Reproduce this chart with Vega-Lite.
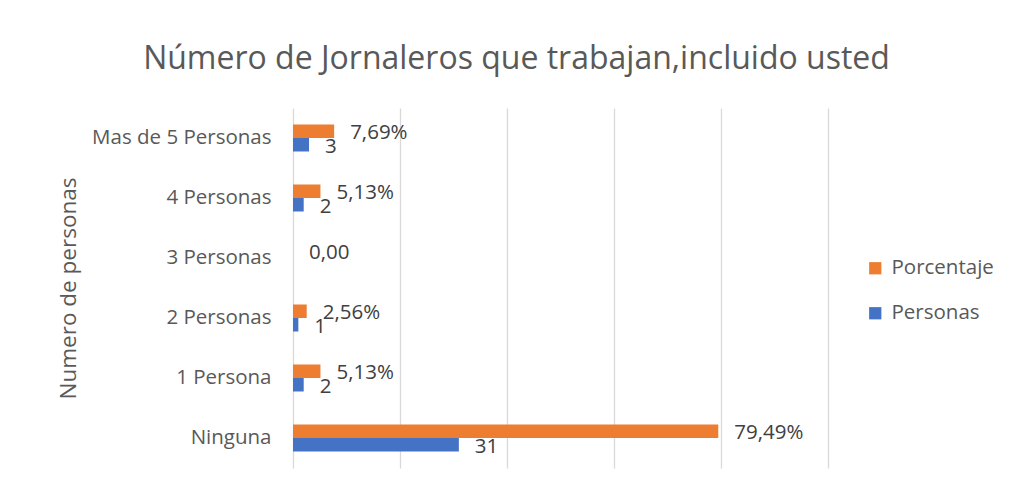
{
  "$schema": "https://vega.github.io/schema/vega-lite/v6.json",
  "autosize": "none",
  "width": 535,
  "height": 360,
  "padding": {"left": 293, "top": 108, "right": 190, "bottom": 20},
  "background": "white",
  "title": {
    "text": "Número de Jornaleros que trabajan,incluido usted",
    "font": "Open Sans",
    "fontSize": 32,
    "fontWeight": "normal",
    "color": "#595959",
    "anchor": "middle",
    "dx": -44,
    "offset": 32
  },
  "data": {
    "values": [
      {"categoria": "Mas de 5 Personas", "serie": "Porcentaje", "valor": 7.69, "etiqueta": "7,69%"},
      {"categoria": "Mas de 5 Personas", "serie": "Personas", "valor": 3, "etiqueta": "3"},
      {"categoria": "4 Personas", "serie": "Porcentaje", "valor": 5.13, "etiqueta": "5,13%"},
      {"categoria": "4 Personas", "serie": "Personas", "valor": 2, "etiqueta": "2"},
      {"categoria": "3 Personas", "serie": "Porcentaje", "valor": 0, "etiqueta": "0,00"},
      {"categoria": "3 Personas", "serie": "Personas", "valor": 0, "etiqueta": ""},
      {"categoria": "2 Personas", "serie": "Porcentaje", "valor": 2.56, "etiqueta": "2,56%"},
      {"categoria": "2 Personas", "serie": "Personas", "valor": 1, "etiqueta": "1"},
      {"categoria": "1 Persona", "serie": "Porcentaje", "valor": 5.13, "etiqueta": "5,13%"},
      {"categoria": "1 Persona", "serie": "Personas", "valor": 2, "etiqueta": "2"},
      {"categoria": "Ninguna", "serie": "Porcentaje", "valor": 79.49, "etiqueta": "79,49%"},
      {"categoria": "Ninguna", "serie": "Personas", "valor": 31, "etiqueta": "31"}
    ]
  },
  "encoding": {
    "y": {
      "field": "categoria",
      "type": "nominal",
      "sort": ["Mas de 5 Personas", "4 Personas", "3 Personas", "2 Personas", "1 Persona", "Ninguna"],
      "scale": {"paddingInner": 0.55, "paddingOuter": 0.275},
      "axis": {
        "title": "Numero de personas",
        "titleFont": "Open Sans",
        "titleFontSize": 22.5,
        "titleFontWeight": "normal",
        "titleColor": "#595959",
        "titlePadding": 13,
        "labelFont": "Open Sans",
        "labelFontSize": 20.5,
        "labelColor": "#595959",
        "labelPadding": 22,
        "labelLimit": 400,
        "domain": false,
        "ticks": false
      }
    },
    "yOffset": {
      "field": "serie",
      "type": "nominal",
      "sort": ["Porcentaje", "Personas"]
    },
    "x": {
      "field": "valor",
      "type": "quantitative",
      "scale": {"domain": [0, 100], "nice": false},
      "axis": {
        "title": null,
        "labels": false,
        "ticks": false,
        "domain": false,
        "values": [0, 20, 40, 60, 80, 100],
        "grid": true,
        "gridColor": "#d9d9d9",
        "gridWidth": 1.3
      }
    }
  },
  "layer": [
    {
      "mark": {"type": "bar"},
      "encoding": {
        "color": {
          "field": "serie",
          "type": "nominal",
          "scale": {"domain": ["Porcentaje", "Personas"], "range": ["#ED7D31", "#4472C4"]},
          "legend": {
            "title": null,
            "orient": "none",
            "legendX": 572,
            "legendY": 150,
            "symbolType": "square",
            "symbolSize": 150,
            "symbolStrokeWidth": 0,
            "labelFont": "Open Sans",
            "labelFontSize": 20.5,
            "labelColor": "#595959",
            "rowPadding": 24,
            "labelOffset": 6
          }
        }
      }
    },
    {
      "mark": {"type": "text", "align": "left", "baseline": "middle", "dx": 16, "dy": 2, "font": "Open Sans", "fontSize": 20.5, "color": "#404040"},
      "encoding": {
        "text": {"field": "etiqueta"}
      }
    }
  ],
  "config": {
    "view": {"stroke": null}
  }
}
